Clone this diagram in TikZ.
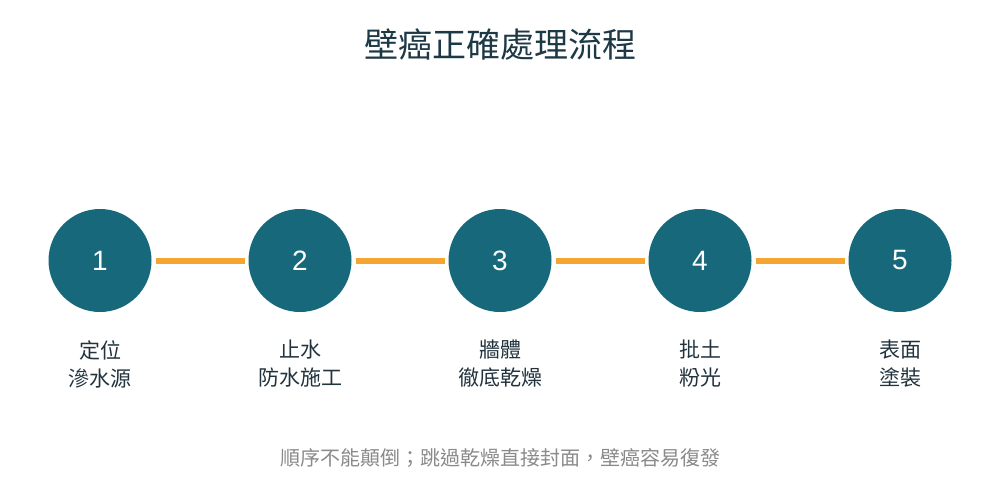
\documentclass[tikz,border=0pt]{standalone}
\usepackage{fontspec}
\setmainfont{Liberation Sans}
\newfontfamily\cjk{Noto Sans CJK TC}
\usetikzlibrary{calc}
\definecolor{stepteal}{HTML}{17687A}
\definecolor{linkorange}{HTML}{F5A632}
\definecolor{titleink}{HTML}{1E3946}
\definecolor{labelink}{HTML}{22333E}
\definecolor{noteink}{HTML}{8A8A8A}
\tikzset{
	stepdot/.style={circle, fill=stepteal, minimum size=103pt, inner sep=0pt, text=white, font=\fontsize{28}{30}\selectfont},
	steplink/.style={draw=linkorange, line width=6pt, shorten <=4pt, shorten >=3pt},
	steptext/.style={align=center, text=labelink, font=\cjk\fontsize{21}{28}\selectfont}
}

\begin{document}
\begin{tikzpicture}[x=1pt, y=-1pt]
		%%%%% START %%%%%
		\useasboundingbox[fill=white] (0, 0) rectangle (1000, 500);
		
		\node[text=titleink, font=\cjk\fontsize{34}{36}\selectfont] (title) at (500, 45) {壁癌正確處理流程};
		
		\node[stepdot] (s1) at (100, 260.5) {1};
		\node[stepdot] (s2) at (300, 260.5) {2};
		\node[stepdot] (s3) at (500, 260.5) {3};
		\node[stepdot] (s4) at (700, 260.5) {4};
		\node[stepdot] (s5) at (900, 260.5) {5};
		
		\draw[steplink] (s1) -- (s2);
		\draw[steplink] (s2) -- (s3);
		\draw[steplink] (s3) -- (s4);
		\draw[steplink] (s4) -- (s5);
		
		\node[steptext] (t1) at (100, 364) {定位\\滲水源};
		\node[steptext] (t2) at (300, 364) {止水\\防水施工};
		\node[steptext] (t3) at (500, 364) {牆體\\徹底乾燥};
		\node[steptext] (t4) at (700, 364) {批土\\粉光};
		\node[steptext] (t5) at (900, 364) {表面\\塗裝};
		
		\node[text=noteink, font=\cjk\fontsize{20}{22}\selectfont] (note) at (500, 458) {順序不能顛倒；跳過乾燥直接封面，壁癌容易復發};
		%%%%% END %%%%%
	\end{tikzpicture}
\end{document}
